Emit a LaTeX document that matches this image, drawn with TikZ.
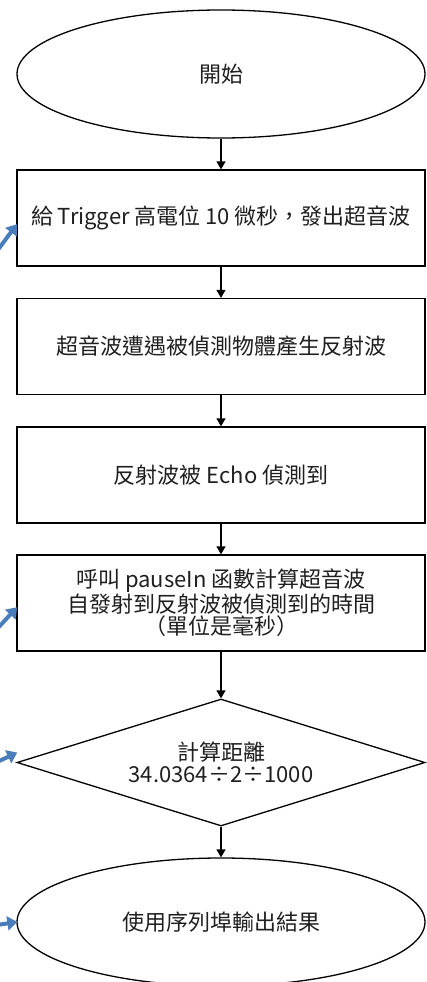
\documentclass[tikz,border=0pt]{standalone}
\usepackage{fontspec}
\setmainfont{Noto Sans CJK TC}
\usetikzlibrary{shapes.geometric,arrows.meta}
\definecolor{hintblue}{HTML}{4A7EBB}
\tikzset{
  every node/.style={font=\fontsize{22}{22.5}\selectfont, text=black!88},
  term/.style={draw, line width=1.3pt, ellipse, minimum width=408pt, minimum height=128pt, inner sep=0pt},
  proc/.style={draw, line width=1.3pt, rectangle, minimum width=408pt, minimum height=96pt, inner sep=0pt, align=center},
  dec/.style={draw, line width=1.3pt, diamond, aspect=3.2, minimum width=408pt, minimum height=127pt, inner sep=0pt, align=center},
  flow/.style={line width=1.3pt, -{Triangle[length=8pt,width=9pt]}},
  hint/.style={draw=hintblue, line width=4pt, -{Triangle[length=10pt,width=14pt]}, shorten >=-1pt}
}
\begin{document}
\begin{tikzpicture}[x=1pt,y=-1pt]
\useasboundingbox (0,0) rectangle (427,982);
\begin{scope}
\clip (0,0) rectangle (427,982);
\node[term] (start) at (221,74) {開始};
\node[proc] (p1) at (221,218) {給 Trigger 高電位 10 微秒，發出超音波};
\node[proc] (p2) at (221,346.5) {超音波遭遇被偵測物體產生反射波};
\node[proc] (p3) at (221,475) {反射波被 Echo 偵測到};
\node[proc] (p4) at (221,603) {呼叫 pauseIn 函數計算超音波\\自發射到反射波被偵測到的時間\\（單位是毫秒）};
\node[dec] (d1) at (221,762.5) {計算距離\\34.0364÷2÷1000};
\node[term] (end) at (221,922) {使用序列埠輸出結果};
\draw[flow] (start) -- (p1);
\draw[flow] (p1) -- (p2);
\draw[flow] (p2) -- (p3);
\draw[flow] (p3) -- (p4);
\draw[flow] (p4) -- (d1);
\draw[flow] (d1) -- (end);
\coordinate (h1) at (-3,251);
\coordinate (h2) at (-3,629);
\coordinate (h3) at (-3,762);
\coordinate (h4) at (-3,925);
\draw[hint] (h1) -- (p1.west |- 0,225);
\draw[hint] (h2) -- (p4.west |- 0,608);
\draw[hint] (h3) -- (d1.west |- 0,753);
\draw[hint] (h4) -- (end.west);
\end{scope}
\end{tikzpicture}
\end{document}
